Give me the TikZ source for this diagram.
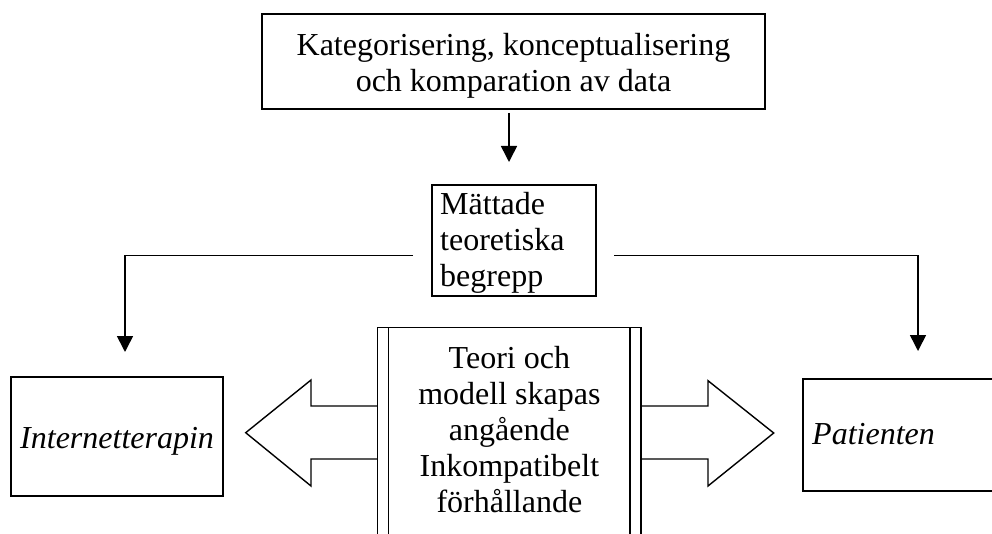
\documentclass[tikz,border=0pt]{standalone}
\usepackage{fontspec}
\setmainfont{Liberation Serif}
\usetikzlibrary{arrows.meta}
\begin{document}
\begin{tikzpicture}[x=1pt,y=-1pt,
  box/.style={draw, line width=2.2pt, inner sep=0pt},
  conn/.style={line width=1.6pt, -{Triangle[length=16pt,width=16pt]}},
  blk/.style={line width=1.4pt, line join=miter},
  txt/.style={font=\fontsize{32}{36}\selectfont, inner sep=0pt}]
\clip (0,0) rectangle (992,534);
% boxes
\node[box, minimum width=503pt, minimum height=95pt] (top) at (513.5,61.5) {};
\node[txt, align=center, anchor=north] (toptxt) at (513.5,33) {Kategorisering, konceptualisering\\och komparation av data};
\node[box, minimum width=164pt, minimum height=111pt] (mid) at (514,240.5) {};
\node[txt, align=left, anchor=north west] (midtxt) at (440,192) {Mättade\\teoretiska\\begrepp};
\node[box, minimum width=212pt, minimum height=119pt] (int) at (117,436.5) {};
\node[txt, anchor=base west] (inttxt) at (20,448) {\itshape Internetterapin};
\node[box, minimum width=197pt, minimum height=112pt] (pat) at (901.5,435) {};
\node[txt, anchor=base west] (pattxt) at (812,444) {\itshape Patienten};
% centre double box
\node[draw, line width=1.5pt, inner sep=0pt, minimum width=263.3pt, minimum height=220pt] (theory) at (509.35,437.7) {};
\draw[line width=1.4pt] (388.5,327.7) -- (388.5,548);
\draw[line width=1.4pt] (629.8,327.7) -- (629.8,548);
\node[txt, align=center, anchor=north] (thtxt) at (509.35,346) {Teori och\\modell skapas\\angående\\Inkompatibelt\\förhållande};
% block arrows
\draw[blk] (377.7,406) -- (311,406) -- (311,380) -- (245.7,432.7) -- (311,486) -- (311,459) -- (377.7,459);
\draw[blk] (641,406) -- (708,406) -- (708,380.7) -- (773.7,433) -- (708,486) -- (708,459) -- (641,459);
% connectors
\coordinate (a1) at (509,113);
\coordinate (a2) at (509,162);
\draw[conn] (a1) -- (a2);
\coordinate (ls) at (413,255.7);
\coordinate (le) at (125,352);
\draw[conn] (ls) -| (le);
\coordinate (rs) at (614,255.7);
\coordinate (re) at (918,351);
\draw[conn] (rs) -| (re);
\end{tikzpicture}
\end{document}
